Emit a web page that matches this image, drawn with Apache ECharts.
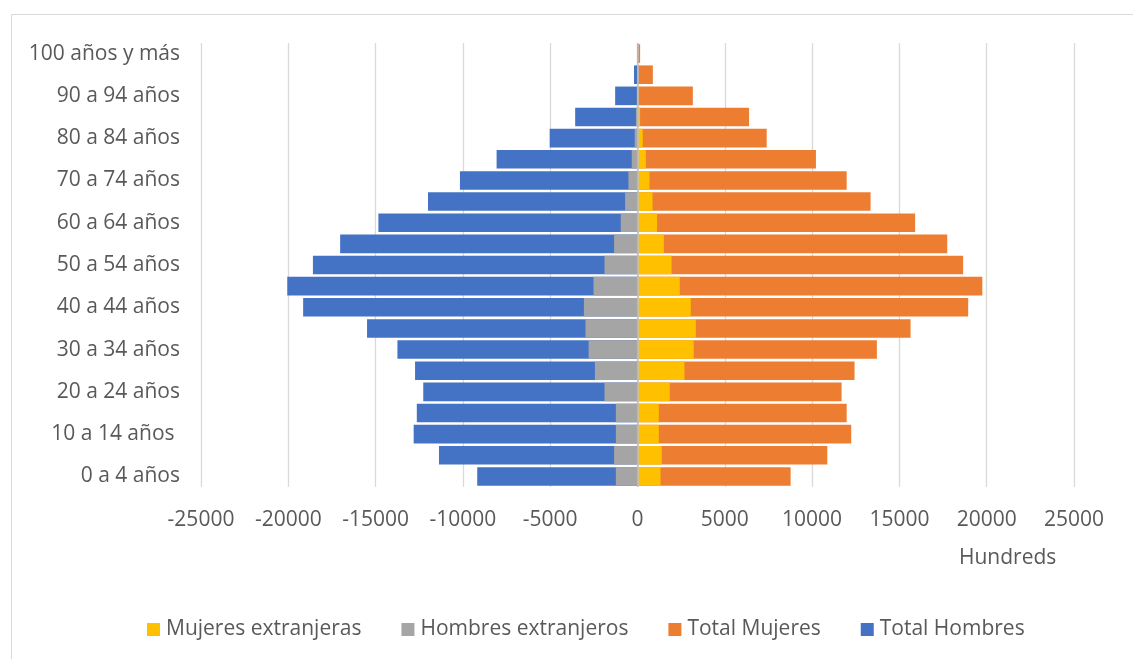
<!DOCTYPE html>
<html>
<head>
<meta charset="utf-8">
<script src="https://cdn.jsdelivr.net/npm/echarts@6/dist/echarts.min.js"></script>
<style>
  html, body { margin: 0; padding: 0; background: #ffffff; }
  #chart { width: 1133px; height: 659px; }
</style>
</head>
<body>
<div id="chart"></div>
<script>
// Age groups, youngest first (bottom of the pyramid)
const ageGroups = [
  '0 a 4 años', '5 a 9 años', '10 a 14 años ', '15 a 19 años', '20 a 24 años',
  '25 a 29 años', '30 a 34 años', '35 a 39 años', '40 a 44 años', '45 a 49 años',
  '50 a 54 años', '55 a 59 años', '60 a 64 años', '65 a 69 años', '70 a 74 años',
  '75 a 79 años', '80 a 84 años', '85 a 89 años', '90 a 94 años', '95 a 99 años',
  '100 años y más'
];

// Values in hundreds; men plotted as negatives
const totalHombres = [
  -9180, -11370, -12820, -12640, -12270, -12740, -13750, -15490, -19150, -20060,
  -18590, -17030, -14840, -12000, -10170, -8070, -5030, -3570, -1280, -200, -30
];
const totalMujeres = [
  8770, 10870, 12240, 11980, 11690, 12430, 13710, 15640, 18940, 19750,
  18650, 17740, 15900, 13350, 11980, 10220, 7400, 6390, 3170, 880, 150
];
const hombresExtranjeros = [
  -1240, -1340, -1240, -1240, -1890, -2440, -2800, -2980, -3070, -2520,
  -1890, -1340, -960, -710, -520, -330, -160, -90, -40, -10, -5
];
const mujeresExtranjeras = [
  1320, 1390, 1220, 1220, 1850, 2690, 3220, 3340, 3050, 2420,
  1950, 1510, 1120, 860, 690, 480, 300, 150, 60, 15, 5
];

// Horizontal axis ticks
const xTicks = [-25000, -20000, -15000, -10000, -5000, 0, 5000, 10000, 15000, 20000, 25000];
const unitsLabel = 'Hundreds';

const FONT = '"Open Sans", "Noto Sans", sans-serif';
const FONT_SIZE = 21;
const TEXT_COLOR = '#595959';

const chart = echarts.init(document.getElementById('chart'), null, { renderer: 'canvas' });

const barCommon = {
  type: 'bar',
  barGap: '-100%',
  barCategoryGap: '12%',
  silent: true
};

chart.setOption({
  backgroundColor: '#ffffff',
  animation: false,
  textStyle: { fontFamily: FONT },
  grid: { left: 201, right: 59, top: 43, bottom: 172, containLabel: false },
  xAxis: {
    type: 'value',
    min: xTicks[0],
    max: xTicks[xTicks.length - 1],
    interval: xTicks[1] - xTicks[0],
    axisLine: { show: false },
    axisTick: { show: false },
    splitLine: { show: true, lineStyle: { color: '#d9d9d9', width: 1.3 } },
    axisLabel: {
      margin: 23,
      color: TEXT_COLOR,
      fontSize: FONT_SIZE,
      fontFamily: FONT,
      formatter: v => String(v)
    }
  },
  yAxis: {
    type: 'category',
    data: ageGroups,
    axisLine: { show: false },
    axisTick: { show: false },
    splitLine: { show: false },
    axisLabel: {
      interval: 1,
      margin: 21,
      color: TEXT_COLOR,
      fontSize: FONT_SIZE,
      fontFamily: FONT
    }
  },
  legend: {
    left: 142,
    top: 614,
    itemWidth: 13,
    itemHeight: 13,
    itemGap: 40,
    icon: 'rect',
    data: ['Mujeres extranjeras', 'Hombres extranjeros', 'Total Mujeres', 'Total Hombres'],
    textStyle: { color: TEXT_COLOR, fontSize: FONT_SIZE, fontFamily: FONT, padding: [0, 0, 0, 1] }
  },
  graphic: [
    {
      type: 'rect',
      silent: true,
      shape: { x: 11.5, y: 14.5, width: 1200, height: 700 },
      style: { fill: 'none', stroke: '#d9d9d9', lineWidth: 1 }
    },
    {
      type: 'text',
      silent: true,
      left: 959,
      top: 548,
      style: { text: unitsLabel, fill: TEXT_COLOR, font: FONT_SIZE + 'px ' + FONT }
    }
  ],
  series: [
    Object.assign({}, barCommon, {
      name: 'Total Hombres',
      data: totalHombres,
      itemStyle: { color: '#4472C4' }
    }),
    Object.assign({}, barCommon, {
      name: 'Total Mujeres',
      data: totalMujeres,
      itemStyle: { color: '#ED7D31' }
    }),
    Object.assign({}, barCommon, {
      name: 'Hombres extranjeros',
      data: hombresExtranjeros,
      itemStyle: { color: '#A5A5A5' }
    }),
    Object.assign({}, barCommon, {
      name: 'Mujeres extranjeras',
      data: mujeresExtranjeras,
      itemStyle: { color: '#FFC000' },
      markLine: {
        silent: true,
        symbol: 'none',
        label: { show: false },
        lineStyle: { color: '#bfbfbf', width: 1.5, type: 'solid' },
        data: [{ xAxis: 0 }]
      }
    })
  ]
});
</script>
</body>
</html>
